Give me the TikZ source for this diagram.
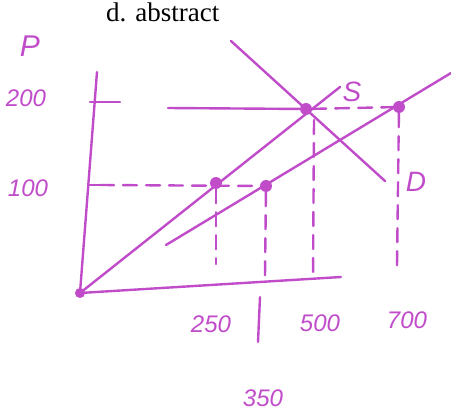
\documentclass[tikz,border=0pt]{standalone}
\usepackage{fontspec}
\setmainfont{Liberation Serif}
\newfontfamily\handfont{Liberation Sans}
\definecolor{hand}{RGB}{192,76,202}
\begin{document}
\begin{tikzpicture}[x=1pt,y=-1pt,
  ink/.style={draw=hand, line width=2.4pt, line cap=round},
  dashink/.style={ink, dash pattern=on 14pt off 9pt},
  dot/.style={circle, fill=hand, inner sep=0pt, minimum size=12pt},
  lbl/.style={text=hand, font=\handfont\itshape\fontsize{24}{24}\selectfont, inner sep=0pt}]
\useasboundingbox (0,0) rectangle (451,415);
\node[anchor=base west, font=\fontsize{27}{27}\selectfont, inner sep=0pt] (title) at (106,21) {d. abstract};
% labels
\node[lbl, font=\handfont\itshape\fontsize{30}{30}\selectfont] (P) at (30,46) {P};
\node[lbl] (l200) at (26,98) {200};
\node[lbl] (l100) at (28,188) {100};
\node[lbl] (l250) at (211,324) {250};
\node[lbl] (l500) at (320,323) {500};
\node[lbl] (l700) at (407,320) {700};
\node[lbl] (l350) at (263,398) {350};
\node[lbl, font=\handfont\itshape\fontsize{28}{28}\selectfont] (S) at (352,92) {S};
\node[lbl, font=\handfont\itshape\fontsize{28}{28}\selectfont] (D) at (416,182) {D};
% coordinates
\coordinate (O) at (80,293);
\coordinate (ytop) at (97,72);
\coordinate (xend) at (341,277);
\coordinate (Send) at (340,87);
\coordinate (Dtop) at (231,41);
\coordinate (Dbot) at (385,181);
\coordinate (S2a) at (166,245);
\coordinate (S2b) at (451,73);
\node[dot] (E1) at (216,183) {};
\node[dot] (E2) at (266,186) {};
\node[dot] (E3) at (306,109) {};
\node[dot] (E4) at (399,107) {};
\node[dot, minimum size=10pt] (Odot) at (O) {};
% axes
\draw[ink] (ytop) -- (O) -- (xend);
\draw[ink] (90,102) -- (120,102);
\draw[ink] (88,185) -- (100,185);
% curves
\draw[ink] (O) -- (Send);
\draw[ink] (Dtop) -- (Dbot);
\draw[ink] (S2a) -- (S2b);
% dashed
\coordinate (h200a) at (168,108);
\draw[ink] (h200a) -- (E3);
\draw[dashink] (E3) -- (E4);
\coordinate (h100a) at (100,185);
\draw[dashink] (h100a) -- (E2);
% verticals
\coordinate (v1b) at (216,264);
\draw[dashink] (E1) -- (v1b);
\coordinate (v2b) at (265,276);
\draw[dashink] (E2) -- (v2b);
\coordinate (v3t) at (314,120);
\coordinate (v3b) at (313,280);
\draw[dashink] (v3t) -- (v3b);
\coordinate (v4b) at (397,266);
\draw[dashink] (E4) -- (v4b);
\coordinate (m1) at (260,297);
\coordinate (m2) at (258,342);
\draw[ink] (m1) -- (m2);
\end{tikzpicture}
\end{document}
